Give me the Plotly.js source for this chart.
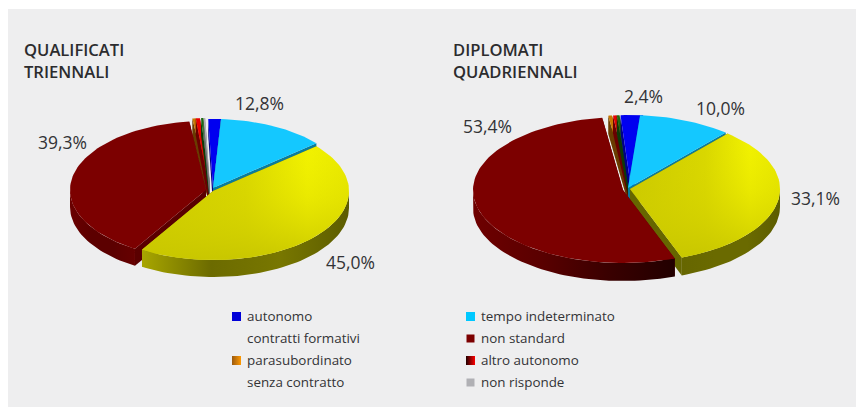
<!DOCTYPE html>
<html><head><meta charset="utf-8">
<script src="https://cdn.plot.ly/plotly-3.0.1.min.js"></script>
<style>html,body{margin:0;padding:0;background:#fff}#c{width:856px;height:407px}</style></head>
<body><div id="c"></div>
<script>
const categories = ['autonomo','tempo indeterminato','contratti formativi','non standard','parasubordinato','altro autonomo','senza contratto','non risponde'];
const valuesQualificati = [1.5,12.8,45.0,39.3,0.4,0.5,0.3,0.2];
const valuesDiplomati = [2.4,10.0,33.1,53.4,0.4,0.4,0.3,0.0];
const labelledQualificati = [null,12.8,45.0,39.3,null,null,null,null];
const labelledDiplomati = [2.4,10.0,33.1,53.4,null,null,null,null];

const topColor = ['#0000f0','#14c8ff','#d8d600','#7c0000','#c87800','#e80000','#1d6a10','#b0b0b4'];
const wallColor = ['#000088','#0a7c9c','#6a6a00','#5a0000','#6a3c00','#6a0000','#0e3a08','#707074'];
const faceColor = ['#000088','#0a7c9c','#666600','#5a0000','#6a3c00','#6a0000','#0e3a08','#707074'];

const pies = [
 {name:'QUALIFICATI<br>TRIENNALI', titleX:22, vals:valuesQualificati, labels:labelledQualificati,
  cx:211, cy:190, rx:136, ry:69, depth:17, rot:-2,
  off:[[2,-2],[2,-2],[2,1],[-5,0],[-2,-3],[-2,-3],[-1,-3],[-1,-3]],
  order:[4,5,6,7,0,1,3,2],
  lab:[[0,0],[259,103],[350,262],[62,142]],
  wallGrad:{2:['#a8a600','#6c6b00','#787700','#5c5c00'],3:['#6a0000','#5c0000','#5c0000','#660000']}},
 {name:'DIPLOMATI<br>QUADRIENNALI', titleX:451, vals:valuesDiplomati, labels:labelledDiplomati,
  cx:626, cy:189, rx:150, ry:73, depth:18, rot:-4,
  off:[[5,-1],[2,-1],[4,0],[-3,1],[3,-1],[4,-1],[4,-1],[4,-1]],
  order:[4,5,6,7,0,1,2,3],
  lab:[[643,96],[720,108],[815,198],[487,126]],
  wallGrad:{2:['#666600','#6a6a00','#6a6a00','#5c5c00'],3:['#6e0000','#5a0000','#3a0000','#220000']}}
];

const traces=[], anns=[];
const poly=(xs,ys,color,grad)=>{
  const t={type:'scatter',mode:'lines',x:xs,y:ys,fill:'toself',line:{width:0,color},fillcolor:color,hoverinfo:'skip',showlegend:false};
  if(grad) t.fillgradient=grad;
  traces.push(t);
};
const scale=(cols)=>cols.map((c,i)=>[i/(cols.length-1),c]);
const DEG=Math.PI/180;

pies.forEach(p=>{
  const total=p.vals.reduce((a,b)=>a+b,0);
  let acc=p.rot; const ranges=p.vals.map(v=>{const a=acc; acc+=v/total*360; return [a,acc];});
  const px=(cx,t)=>cx+p.rx*Math.sin(t*DEG), py=(cy,t)=>cy-p.ry*Math.cos(t*DEG);
  p.order.forEach(i=>{
    if(p.vals[i]<=0) return;
    const [a,b]=ranges[i], ox=p.cx+p.off[i][0], oy=p.cy+p.off[i][1];
    const N=Math.max(3,Math.ceil((b-a)/2));
    const ts=[]; for(let k=0;k<=N;k++) ts.push(a+(b-a)*k/N);
    [a,b].forEach(t=>{
      const ex=px(ox,t), ey=py(oy,t);
      poly([ox,ex,ex,ox,ox],[oy,ey,ey+p.depth,oy+p.depth,oy],faceColor[i]);
    });
    const wa=Math.max(a,90), wb=Math.min(b,270);
    if(wb>wa){
      const wt=[]; const M=Math.ceil((wb-wa)/2); for(let k=0;k<=M;k++) wt.push(wa+(wb-wa)*k/M);
      const xs=wt.map(t=>px(ox,t)), ys=wt.map(t=>py(oy,t));
      const xb=xs.slice().reverse(), yb=wt.map(t=>py(oy,t)+p.depth).reverse();
      const g=p.wallGrad[i];
      poly(xs.concat(xb),ys.concat(yb),wallColor[i],g?{type:'horizontal',colorscale:scale(g)}:null);
    }
    const xs=[ox].concat(ts.map(t=>px(ox,t))), ys=[oy].concat(ts.map(t=>py(oy,t)));
    xs.push(ox); ys.push(oy);
    if(i===2){
      poly(xs,ys,topColor[i],{type:'horizontal',colorscale:[[0,'#c8c600'],[0.5,'#d8d600'],[0.8,'#f2f200'],[1,'#e8e800']]});
      poly(xs,ys,'rgba(0,0,0,0)',{type:'vertical',colorscale:[[0,'rgba(200,198,0,0.95)'],[0.55,'rgba(215,212,0,0.3)'],[1,'rgba(230,230,0,0)']]});
    } else poly(xs,ys,topColor[i]);
  });
  anns.push({x:p.titleX,y:60,text:p.name,xanchor:'left',align:'left',showarrow:false,
     font:{family:'Open Sans',size:16.6,color:'#2c2c2e',weight:600}});
  p.lab.forEach((l,i)=>{ if(p.labels[i]!=null) anns.push({x:l[0],y:l[1],text:p.labels[i].toFixed(1).replace('.',',')+'%',showarrow:false,
     font:{family:'Open Sans',size:17.5,color:'#333336'}}); });
});

const legendCols=[[0,2,4,6],[1,3,5,7]];
const swX=[236.5,470.5], txX=[245,479], rowsY=[316,338,360,382];
const swatch=['#0000d8','#00c8ff',null,'#7c0000','#9a5a10','#200000',null,'#b0b0b4'];
const swGrad=[null,null,null,null,{type:'horizontal',color:'#ff9900'},{type:'horizontal',color:'#ff0000'},null,null];
legendCols.forEach((col,c)=>col.forEach((idx,r)=>{
  anns.push({x:txX[c],y:rowsY[r],text:categories[idx],xanchor:'left',showarrow:false,font:{family:'Open Sans',size:13.4,color:'#333336'}});
}));
const order=[0,2,4,6,1,3,5,7];
order.forEach((idx,n)=>{
  if(!swatch[idx]) return;
  const c=n<4?0:1,r=n%4;
  const m={symbol:'square',size:idx===3||idx===7?8:9,color:swatch[idx],line:{width:0}};
  if(swGrad[idx]) m.gradient=swGrad[idx];
  traces.push({type:'scatter',mode:'markers',x:[swX[c]],y:[rowsY[r]+0.5],marker:m,hoverinfo:'skip',showlegend:false});
});

const layout={width:856,height:407,margin:{l:0,r:0,t:0,b:0},paper_bgcolor:'#fff',plot_bgcolor:'rgba(0,0,0,0)',showlegend:false,
 xaxis:{range:[0,856],visible:false,fixedrange:true},
 yaxis:{range:[407,0],visible:false,fixedrange:true},
 shapes:[{type:'rect',xref:'x',yref:'y',x0:8,x1:856,y0:9,y1:407,fillcolor:'#eeeeef',line:{width:0},layer:'below'}],
 annotations:anns};
Plotly.newPlot('c',traces,layout,{staticPlot:true,displayModeBar:false});
</script></body></html>
